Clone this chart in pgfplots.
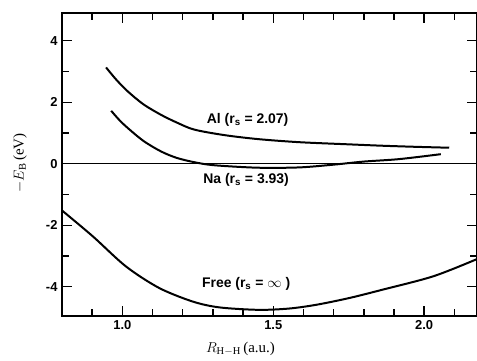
\documentclass[border=0pt]{standalone}
\usepackage{fontspec}
\setmainfont{Liberation Serif}
\newfontfamily\labfont{Liberation Sans}
\usepackage{pgfplots}
\pgfplotsset{compat=1.18}
\begin{document}
\begin{tikzpicture}
\begin{axis}[
  scale only axis, width=415bp, height=303bp,
  xmin=0.8, xmax=2.175, ymin=-4.95, ymax=4.9,
  xtick={1.0,1.5,2.0}, xticklabels={1.0,1.5,2.0},
  minor xtick={0.9,1.1,1.2,1.3,1.4,1.6,1.7,1.8,1.9,2.1},
  ytick={-4,-2,0,2,4}, yticklabels={-4,-2,0,2,4},
  minor ytick={-3,-1,1,3},
  tick align=inside, major tick length=10bp, minor tick length=7bp,
  tick style={line width=1.4pt, black},
  axis line style={line width=1.6pt},
  ticklabel style={font=\labfont\bfseries\fontsize{13}{13}\selectfont},
  xticklabel style={yshift=-1bp},
  yticklabel style={xshift=-1bp},
  xlabel={$R_{\mathrm{H-H}}$\,(a.u.)},
  ylabel={$-E_{\mathrm{B}}$\,(eV)},
  label style={font=\fontsize{15}{15}\selectfont},
  xlabel style={at={(axis description cs:0.43,-0.108)}, anchor=center},
  ylabel style={at={(axis description cs:-0.101,0.505)}, anchor=center},
  clip=false,
]
\addplot[line width=1.1pt] coordinates {(0.8,0) (2.175,0)};
% Al
\addplot[line width=2pt, smooth] coordinates {
(0.946,3.13) (0.98,2.73) (1.018,2.35) (1.07,1.93) (1.128,1.59) (1.18,1.34) (1.238,1.11) (1.338,0.93) (1.45,0.80) (1.586,0.70) (1.75,0.63) (1.861,0.585) (1.97,0.55) (2.083,0.52)};
% Na
\addplot[line width=2pt, smooth] coordinates {
(0.963,1.72) (0.99,1.42) (1.018,1.16) (1.07,0.74) (1.128,0.40) (1.18,0.19) (1.238,0.05) (1.305,-0.05) (1.45,-0.13) (1.586,-0.12) (1.70,-0.03) (1.80,0.07) (1.917,0.15) (2.055,0.31)};
% Free
\addplot[line width=2pt, smooth] coordinates {
(0.8,-1.52) (0.902,-2.36) (1.012,-3.34) (1.122,-4.04) (1.233,-4.48) (1.321,-4.67) (1.45,-4.75) (1.55,-4.71) (1.64,-4.59) (1.75,-4.37) (1.86,-4.10) (2.03,-3.66) (2.175,-3.10)};
\node[font=\labfont\bfseries\fontsize{14}{14}\selectfont] at (axis cs:1.415,1.43) {Al (r\textsubscript{s} = 2.07)};
\node[font=\labfont\bfseries\fontsize{14}{14}\selectfont] at (axis cs:1.41,-0.52) {Na (r\textsubscript{s} = 3.93)};
\node[font=\labfont\bfseries\fontsize{14}{14}\selectfont] at (axis cs:1.41,-3.9) {Free (r\textsubscript{s} = $\infty$ )};
\coordinate (bl) at (rel axis cs:0,0);
\coordinate (tr) at (rel axis cs:1,1);
\end{axis}
\pgfresetboundingbox
\path[use as bounding box] ([xshift=-62bp,yshift=-45bp]bl) rectangle ([yshift=13bp]tr);
\end{tikzpicture}
\end{document}
